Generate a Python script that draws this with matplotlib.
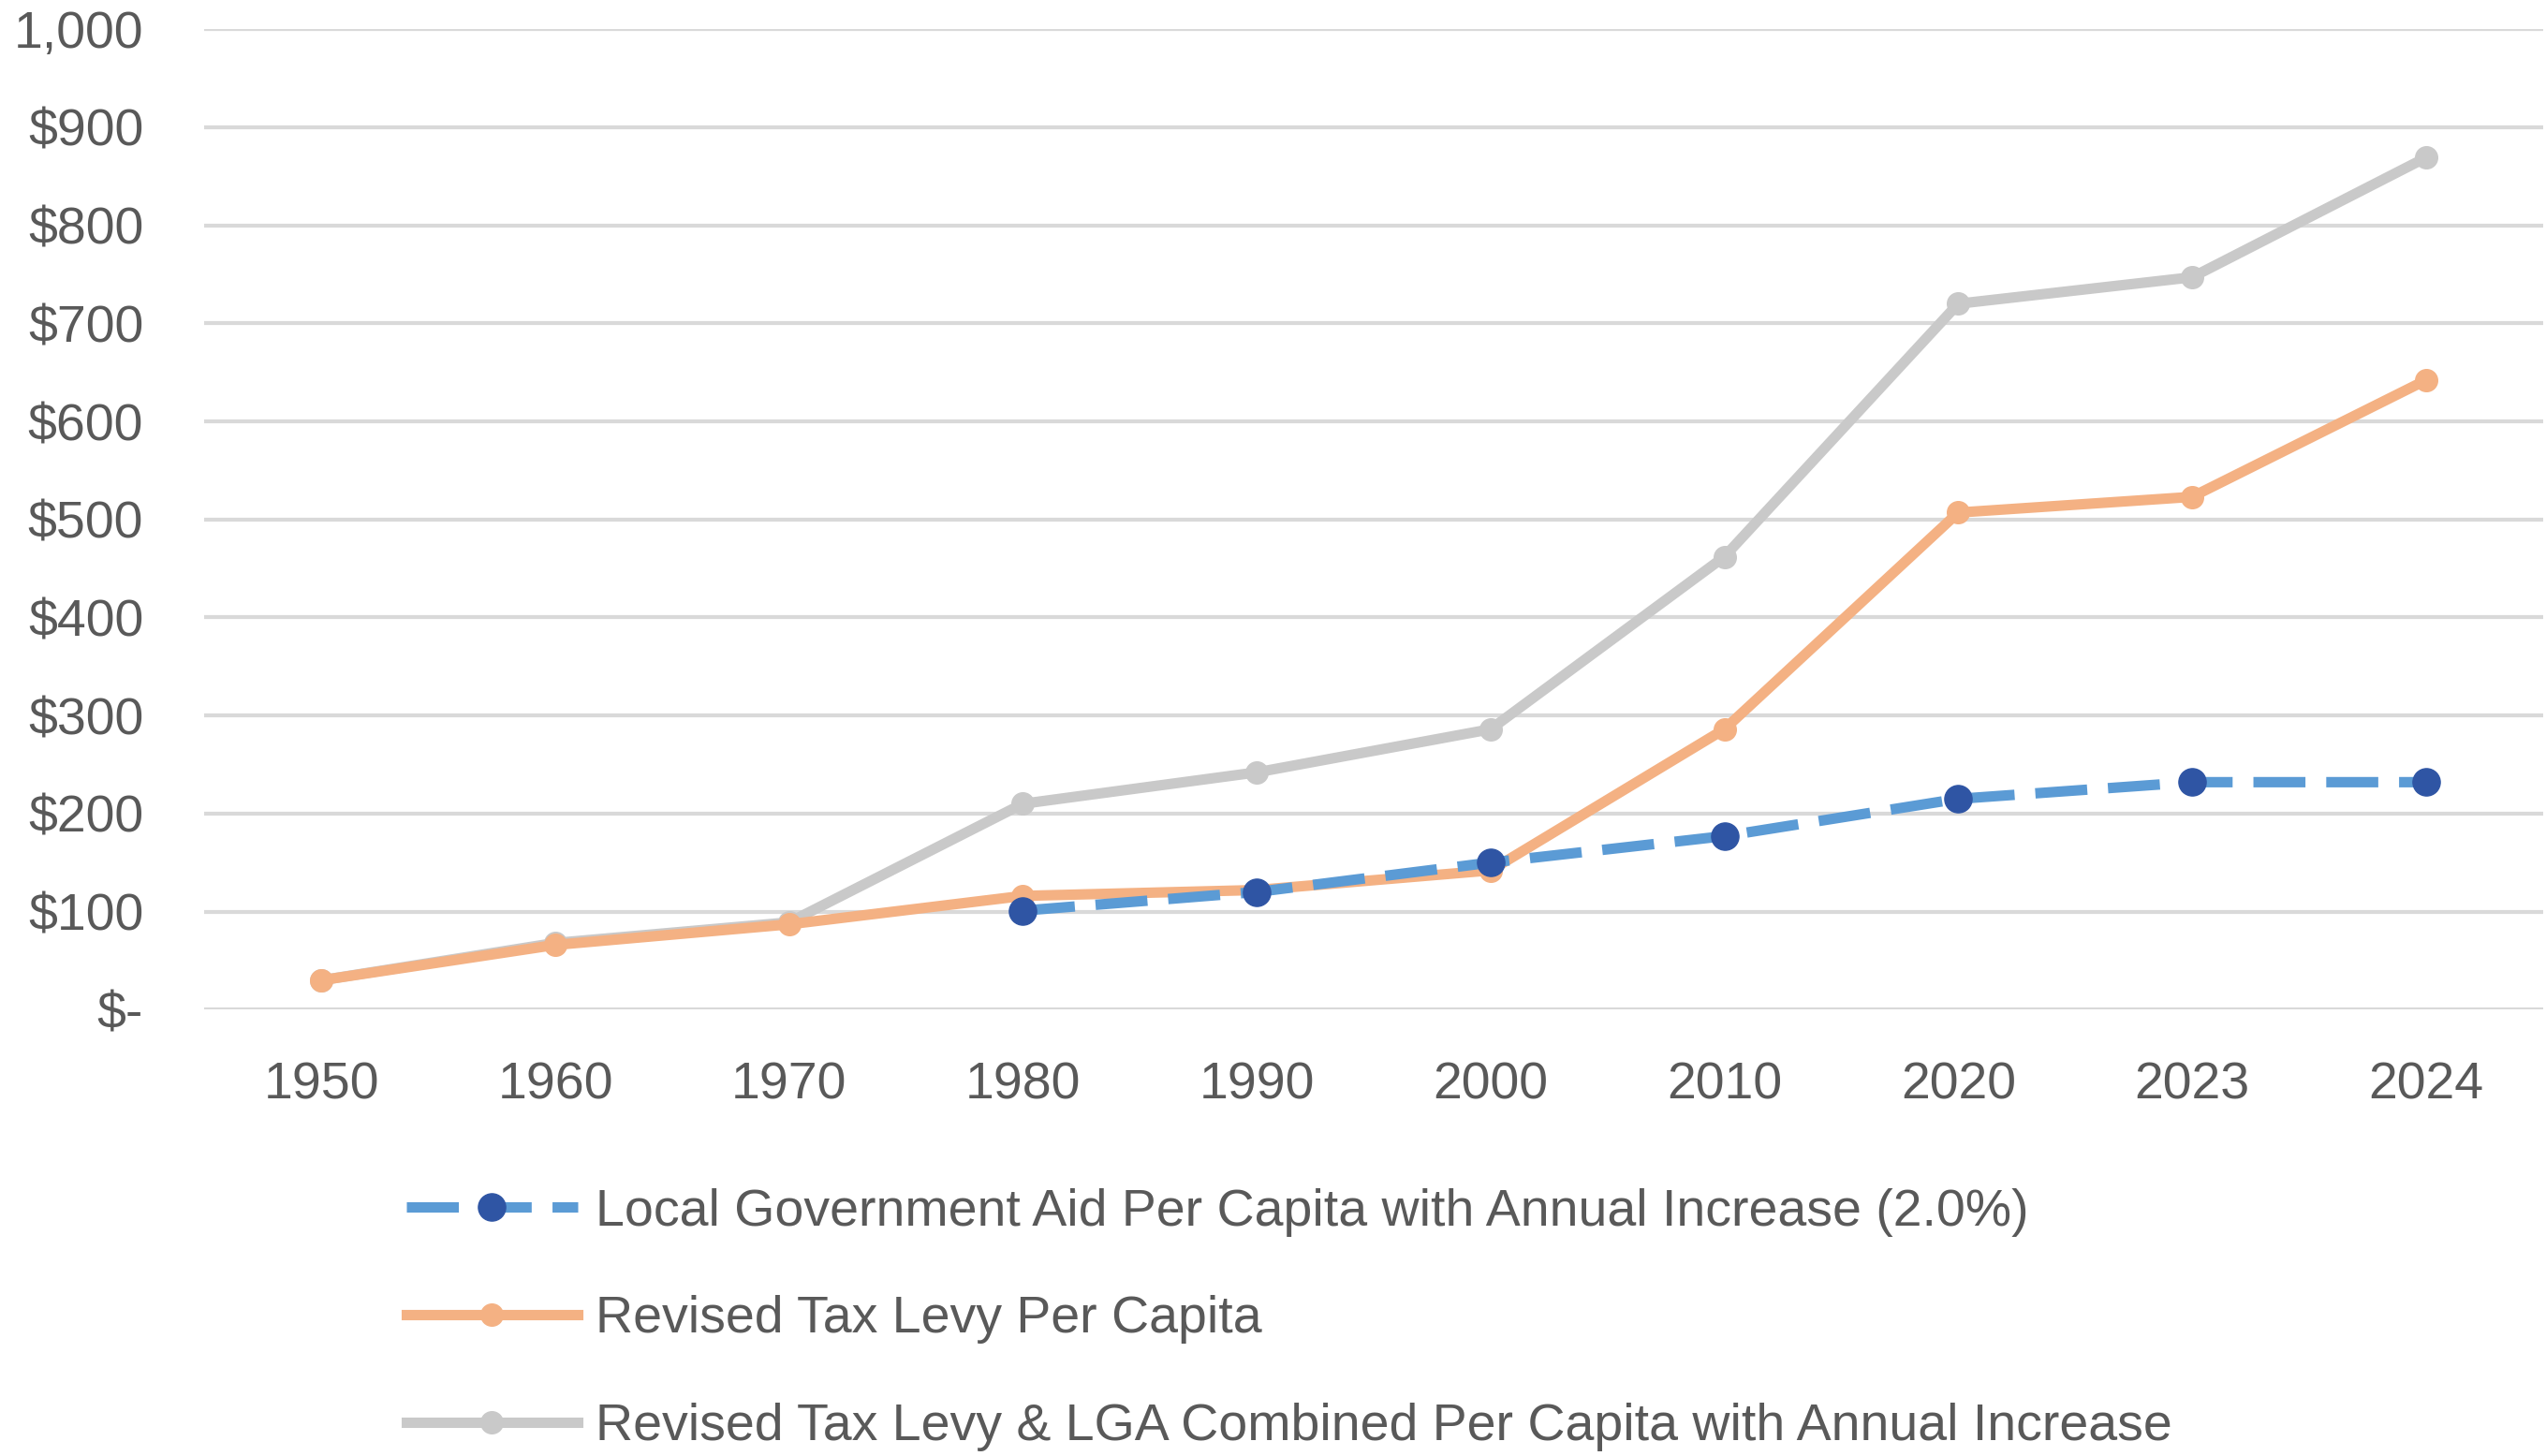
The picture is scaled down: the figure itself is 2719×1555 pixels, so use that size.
import matplotlib
matplotlib.use("Agg")
import matplotlib.pyplot as plt
import numpy as np

years = ["1950", "1960", "1970", "1980", "1990", "2000", "2010", "2020", "2023", "2024"]
lga = [np.nan, np.nan, np.nan, 101, 120, 150, 177, 215, 232, 232]
levy = [30, 66, 87, 116, 122, 142, 286, 507, 523, 642]
combined = [30, 68, 89, 210, 242, 286, 462, 720, 747, 869]
labels = ["Local Government Aid Per Capita with Annual Increase (2.0%)",
          "Revised Tax Levy Per Capita",
          "Revised Tax Levy & LGA Combined Per Capita with Annual Increase"]
yticks = [0, 100, 200, 300, 400, 500, 600, 700, 800, 900, 1000]
yticklabels = ["$-", "$100", "$200", "$300", "$400", "$500", "$600", "$700", "$800", "$900", "1,000"]

plt.rcParams['font.family'] = ['Liberation Sans', 'DejaVu Sans']

W, H = 2719, 1555
fig = plt.figure(figsize=(W / 100, H / 100), dpi=100)
ax = fig.add_axes([126 / 1568, 1 - 622 / 897, (1566 - 126) / 1568, (622 - 18) / 897])

x = np.arange(len(years))
tc = "#595959"
fs = 40

ax.plot(x, combined, color="#C9C9C9", lw=8, marker="o", ms=17, zorder=3, label=labels[2])
ax.plot(x, levy, color="#F4B183", lw=8, marker="o", ms=17, zorder=4, label=labels[1])
l1, = ax.plot(x, lga, color="#5B9BD5", lw=8, ls="--", marker="o", ms=21,
              mfc="#2F55A4", mec="#2F55A4", zorder=5, label=labels[0])
l1.set_dashes((5, 2))

ax.set_xlim(-0.5, len(years) - 0.5)
ax.set_ylim(0, 1000)
ax.set_xticks(x)
ax.set_xticklabels(years)
ax.set_yticks(yticks)
ax.set_yticklabels(yticklabels)
ax.tick_params(axis="both", length=0, labelsize=fs, labelcolor=tc)
ax.tick_params(axis="x", pad=40)
ax.tick_params(axis="y", pad=47)
ax.grid(axis="y", color="#D9D9D9", lw=3)
ax.set_axisbelow(True)
for s in ax.spines.values():
    s.set_visible(False)

handles, labs = ax.get_legend_handles_labels()
order = [2, 1, 0]
fig.legend([handles[i] for i in order], [labs[i] for i in order],
           loc="center left", bbox_to_anchor=(250 / 1568, 1 - 813 / 897),
           frameon=False, fontsize=fs, labelcolor=tc, handlelength=3.3,
           handletextpad=0.35, labelspacing=1.13, borderpad=0, borderaxespad=0)

fig.savefig("out.png", dpi=100)
